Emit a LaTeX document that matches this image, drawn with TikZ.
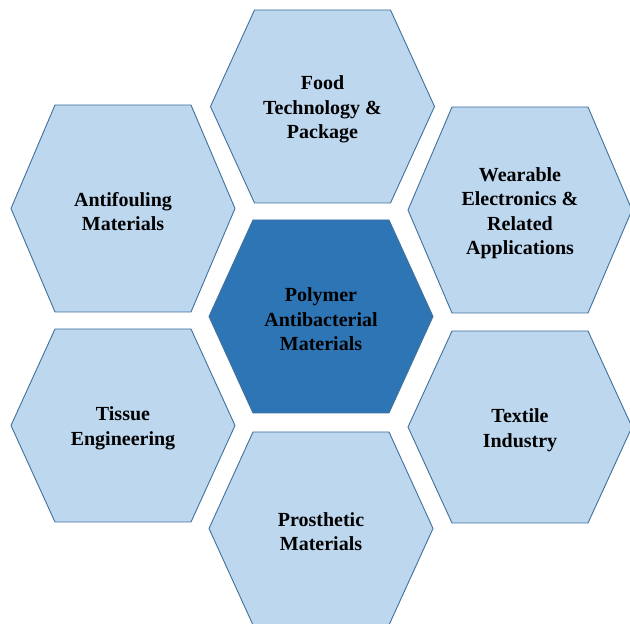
\documentclass[tikz,border=0pt]{standalone}
\usepackage{fontspec}
\setmainfont{Liberation Serif}
\definecolor{hexlight}{RGB}{189,215,238}
\definecolor{hexdark}{RGB}{46,117,182}
\definecolor{hexline}{RGB}{65,113,156}
\tikzset{
  hexshape/.style={draw=hexline, line width=0.9pt, line join=miter},
  hexouter/.style={hexshape, fill=hexlight},
  hexinner/.style={hexshape, fill=hexdark},
  hextext/.style={align=center, font=\fontsize{20}{24.5}\selectfont\bfseries, text=black, inner sep=0pt, yshift=-3pt}
}
% #1 name, #2 x, #3 y, #4 style, #5 half height, #6 text
\newcommand{\hexcell}[6]{%
  \draw[#4] (#2-112,#3) -- (#2-68,#3+#5) -- (#2+68,#3+#5) -- (#2+112,#3)
    -- (#2+68,#3-#5) -- (#2-68,#3-#5) -- cycle;
  \node[hextext] (#1) at (#2,#3) {#6};
}
\begin{document}
\begin{tikzpicture}[x=1pt,y=1pt]
\useasboundingbox (0,0) rectangle (630,624);
\clip (0,0) rectangle (630,624);
\fill[white] (0,0) rectangle (630,624);
\hexcell{food}{322.5}{517.5}{hexouter}{96.5}{Food\\Technology \&\\Package}
\hexcell{anti}{123}{415.5}{hexouter}{103.5}{Antifouling\\Materials}
\hexcell{wear}{520}{414}{hexouter}{103}{Wearable\\Electronics \&\\Related\\Applications}
\hexcell{poly}{321}{307.5}{hexinner}{96.5}{Polymer\\Antibacterial\\Materials}
\hexcell{tissue}{123}{198.5}{hexouter}{96.5}{Tissue\\Engineering}
\hexcell{textile}{520}{197}{hexouter}{96}{Textile\\Industry}
\hexcell{pros}{321}{95.5}{hexouter}{96.5}{Prosthetic\\Materials}
\end{tikzpicture}
\end{document}
